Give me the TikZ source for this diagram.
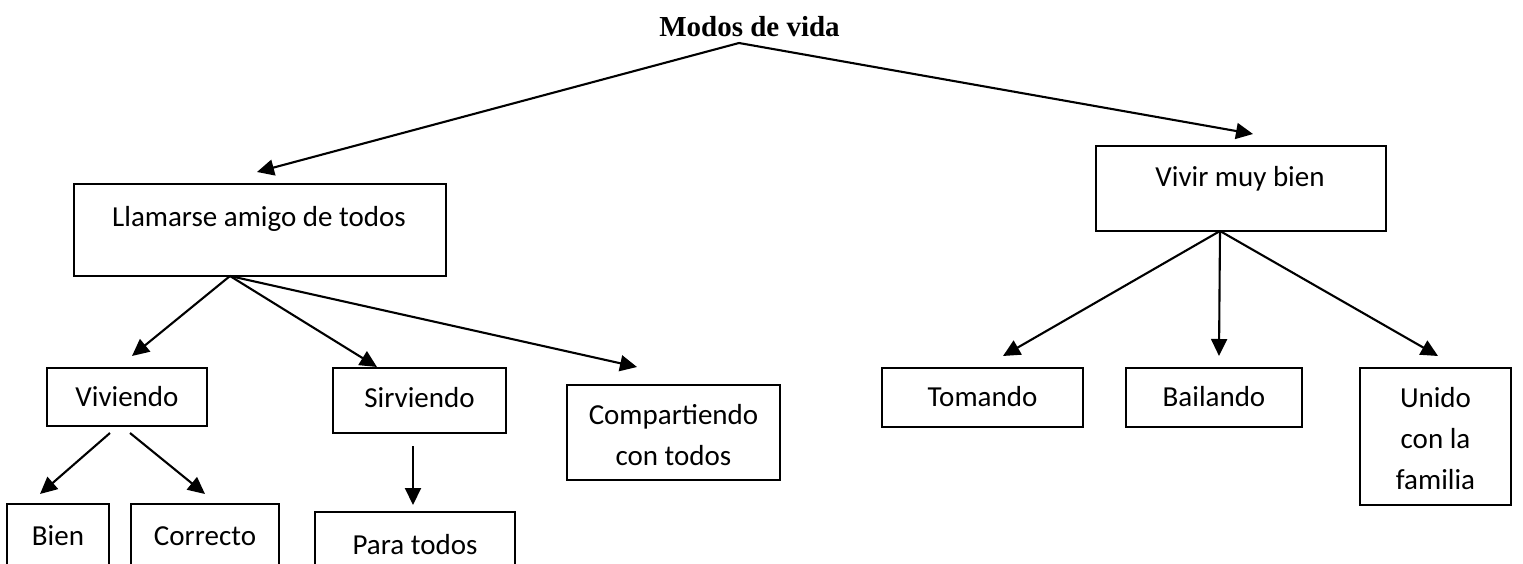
\documentclass[tikz,border=0pt]{standalone}
\usepackage{fontspec}
\setmainfont{Carlito}
\newfontfamily\titlefont{Liberation Serif}
\usetikzlibrary{arrows.meta}
\newcommand{\topstrut}{\rule{0pt}{21.75pt}}
\newcommand{\botstrut}{\rule[-3.2pt]{0pt}{3.2pt}}
\tikzset{
  box/.style={draw, line width=1.8pt, inner sep=0pt, rectangle},
  lbl/.style={font=\fontsize{29}{41}\selectfont, text height=21.75pt, text depth=3.2pt, align=center, inner sep=0pt},
  mlbl/.style={font=\fontsize{29}{41}\selectfont, align=center, inner sep=0pt},
  conn/.style={line width=2.1pt, -{Triangle[length=17pt,width=16pt]}}
}
\begin{document}
\begin{tikzpicture}[x=1pt,y=-1pt]
\useasboundingbox (0,0) rectangle (1523,564);
\fill[white] (0,0) rectangle (1523,564);
\clip (0,0) rectangle (1523,564);

% title
\node[lbl, font=\fontsize{29}{41}\selectfont\titlefont\bfseries] (title) at (749.5,27) {Modos de vida};
\coordinate (apex) at (739,43);

% level 1
\node[box, minimum width=372pt, minimum height=92pt] (llam) at (260,230) {};
\node[lbl] (llamT) at (259,217) {Llamarse amigo de todos};
\node[box, minimum width=290pt, minimum height=85pt] (vivir) at (1241,188.5) {};
\node[lbl] (vivirT) at (1240,177) {Vivir muy bien};

% level 2
\node[box, lbl, minimum width=160pt, minimum height=58pt] (viv) at (127,397) {Viviendo};
\node[box, minimum width=173pt, minimum height=65pt] (sirv) at (419.5,400.5) {};
\node[lbl] (sirvT) at (419.5,398.5) {Sirviendo};
\node[box, minimum width=213pt, minimum height=95pt] (comp) at (673.5,432.5) {};
\node[mlbl] (compT) at (673.5,435.5) {\topstrut Compartiendo\\con todos\botstrut};
\node[box, lbl, minimum width=201pt, minimum height=59pt] (tom) at (982.5,397.5) {Tomando};
\node[box, lbl, minimum width=176pt, minimum height=59pt] (bail) at (1214,397.5) {Bailando};
\node[box, minimum width=151pt, minimum height=137pt] (unido) at (1435.5,436.5) {};
\node[mlbl] (unidoT) at (1435.5,439.5) {\topstrut Unido\\con la\\familia\botstrut};

% level 3
\node[box, lbl, minimum width=102pt, minimum height=64pt] (bien) at (58,536) {Bien};
\node[box, lbl, minimum width=148pt, minimum height=64pt] (corr) at (205,536) {Correcto};
\node[box, lbl, minimum width=200pt, minimum height=66pt] (para) at (415,545) {Para todos};

% connector end points
\coordinate (tL) at (257,172);
\coordinate (tR) at (1253,134);
\coordinate (lo) at (230,276);
\coordinate (tViv) at (132,356);
\coordinate (tSirv) at (377,367);
\coordinate (tComp) at (637,367);
\coordinate (vo) at (1220,231);
\coordinate (tTom) at (1003,356);
\coordinate (tBail) at (1219,356);
\coordinate (tUnido) at (1438,356);
\coordinate (vivA) at (110,433);
\coordinate (vivB) at (130,433);
\coordinate (tBien) at (40,494);
\coordinate (tCorr) at (205,494);
\coordinate (sirvA) at (413,446);
\coordinate (tPara) at (413,505);

\draw[conn] (apex) -- (tL);
\draw[conn] (apex) -- (tR);
\draw[conn] (lo) -- (tViv);
\draw[conn] (lo) -- (tSirv);
\draw[conn] (lo) -- (tComp);
\draw[conn] (vo) -- (tTom);
\draw[conn] (vo) -- (tBail);
\draw[conn] (vo) -- (tUnido);
\draw[conn] (vivA) -- (tBien);
\draw[conn] (vivB) -- (tCorr);
\draw[conn] (sirvA) -- (tPara);
\end{tikzpicture}
\end{document}
